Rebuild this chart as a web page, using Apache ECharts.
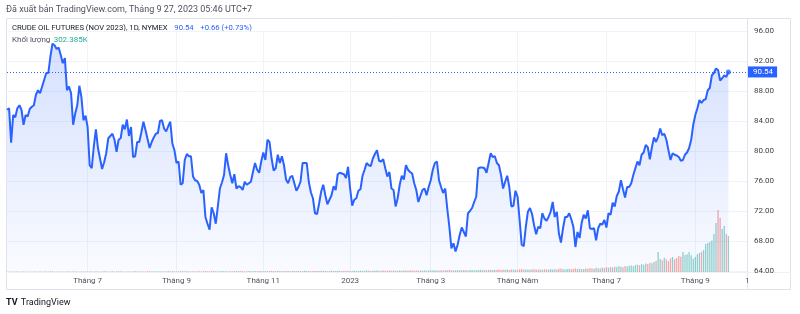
<!DOCTYPE html>
<html><head><meta charset="utf-8">
<script src="https://cdn.jsdelivr.net/npm/echarts@6/dist/echarts.min.js"></script>
<style>html,body{margin:0;padding:0;background:#fff}#c{width:800px;height:314px}</style>
</head><body><div id="c"></div>
<script>
// ---------- DATA ----------
const startDate = '2022-05-05';
const holidays = ['2022-05-30','2022-06-20','2022-07-04','2022-09-05','2022-11-24','2022-12-26',
  '2023-01-02','2023-01-16','2023-02-20','2023-04-07','2023-05-29','2023-06-19','2023-07-04','2023-09-04'];
const futureBars = 9;

// daily closes, CRUDE OIL FUTURES (NOV 2023)
const closes = [
 85.5,85.7,81.1,84.8,84.5,85.7,86.1,85.5,83.5,84.8,
 84.6,85.6,85.9,86.1,87.5,88.1,87.7,88.6,89.5,90.4,
 90.4,92.6,94.3,94.1,93.6,93.8,92.8,91.7,92.4,88.1,
 88.6,87.7,83.5,85.0,86.1,88.7,87.2,84.1,84.7,83.2,
 78.1,77.7,80.6,82.9,80.4,79.0,77.6,78.5,79.7,81.7,
 82.0,82.3,81.5,79.9,81.5,81.7,83.5,82.9,84.2,82.0,
 83.2,79.2,79.3,81.2,81.2,82.5,83.9,82.8,81.6,80.4,
 81.2,81.8,82.3,82.4,84.0,84.1,83.0,82.6,83.3,83.9,
 81.0,80.1,78.4,78.6,75.5,75.7,78.8,79.6,79.3,79.3,
 76.6,76.1,76.0,75.5,74.4,74.8,71.2,70.3,69.5,72.5,
 71.7,70.3,72.6,75.0,75.8,76.8,79.7,78.1,76.8,75.7,
 76.9,75.0,75.3,75.2,74.8,75.9,75.5,75.7,75.9,77.2,
 78.4,77.5,77.1,78.6,79.8,78.8,81.5,81.2,79.0,77.4,
 77.7,79.5,78.4,79.3,78.1,76.2,75.7,76.5,76.7,75.7,
 74.7,75.2,75.9,78.4,78.4,78.4,75.9,74.5,73.7,71.7,
 71.6,73.0,74.6,75.5,74.1,72.9,73.5,74.1,75.3,74.8,
 76.9,77.1,77.0,76.9,76.4,77.9,75.0,72.7,73.5,73.7,
 74.7,74.9,76.7,77.5,78.4,78.1,78.0,79.0,79.6,80.1,
 78.7,78.6,78.9,77.7,76.6,77.2,75.0,74.8,72.6,73.7,
 75.5,76.7,76.2,78.1,77.5,77.2,77.0,75.7,74.8,73.2,
 74.0,74.8,75.0,74.1,75.2,76.1,77.5,78.4,78.6,76.1,
 75.2,74.4,75.0,72.3,69.9,67.0,67.7,66.6,67.5,68.8,
 69.8,69.2,68.6,71.7,72.0,72.4,73.2,73.9,77.7,77.8,
 77.8,77.7,77.1,78.4,79.7,79.2,79.3,78.4,78.1,76.8,
 75.0,75.9,76.7,75.2,72.6,72.7,74.7,73.9,70.8,67.5,
 67.3,69.9,71.9,72.4,71.6,70.1,68.9,69.9,69.7,71.7,
 71.0,70.7,71.2,71.9,73.2,71.2,71.9,69.0,67.8,69.7,
 71.2,71.2,71.7,70.9,69.9,67.2,69.2,68.4,70.4,71.5,
 71.0,72.1,69.7,69.6,69.7,68.1,69.7,70.3,70.2,70.8,
 69.8,71.7,71.5,73.1,72.6,74.0,74.6,76.1,74.9,73.8,
 75.2,75.2,75.7,76.8,77.7,78.6,78.1,79.5,79.8,80.8,
 80.5,78.9,80.5,81.8,81.2,81.9,83.0,82.1,82.3,81.5,
 80.1,78.8,79.7,79.5,79.4,79.2,78.7,78.8,79.5,79.8,
 80.4,81.5,83.5,84.8,85.7,86.8,86.4,86.8,86.9,88.1,
 88.4,90.1,90.4,91.0,90.8,89.4,89.7,90.1,89.88,90.54
];

// daily volume, thousands of contracts
const volumesK = [
 3,2,4,2,3,5,2,3,4,2,
 3,2,3,4,2,3,5,3,2,4,
 3,5,4,3,2,4,3,5,3,4,
 4,3,5,4,3,2,4,3,5,4,
 5,4,3,4,5,3,4,6,4,3,
 4,5,3,4,6,4,5,3,4,5,
 5,4,6,5,4,5,3,4,6,5,
 4,6,5,4,5,6,4,5,7,5,
 6,5,4,6,5,7,5,6,4,5,
 6,5,7,6,5,6,8,6,5,7,
 6,7,5,6,8,7,6,5,7,6,
 7,6,8,7,6,5,7,8,6,7,
 8,7,6,9,7,8,6,7,9,8,
 7,8,9,7,6,8,9,7,8,9,
 8,9,7,8,10,8,9,7,8,9,
 9,8,10,9,8,7,9,10,8,9,
 10,9,8,10,9,11,9,8,10,9,
 10,11,9,10,12,10,9,11,10,12,
 11,10,12,11,10,13,11,12,10,11,
 12,11,13,12,10,14,12,11,13,12,
 13,12,14,11,13,15,12,14,13,12,
 14,13,15,14,16,15,13,14,16,15,
 14,16,15,13,17,16,15,14,17,18,
 16,17,15,18,17,16,19,18,20,17,
 19,18,21,17,22,20,19,18,23,25,
 22,20,21,19,23,24,20,22,21,19,
 23,22,20,25,21,24,22,27,29,24,
 22,25,27,23,26,31,25,28,24,26,
 29,27,33,30,28,35,31,29,38,34,
 40,36,42,38,45,41,48,44,39,50,
 46,52,55,48,58,62,57,66,60,72,
 68,78,74,85,95,168,110,98,120,105,
 92,115,126,108,118,135,128,168,142,150,
 168,140,112,126,150,160,170,185,235,244,
 252,265,319,412,521,454,361,386,319,302.385
];

// time-axis tick labels (first trading day of these months)
const tickLabels = {
 '2022-07':'Tháng 7','2022-09':'Tháng 9','2022-11':'Tháng 11','2023-01':'2023',
 '2023-03':'Tháng 3','2023-05':'Tháng Năm','2023-07':'Tháng 7','2023-09':'Tháng 9'
};
const priceMin = 64, priceMax = 96, priceStep = 4;

// ---------- BUILD ----------
function tradingDays(start, count){
  const out=[]; const d=new Date(start+'T00:00:00Z');
  while(out.length<count){
    const wd=d.getUTCDay(); const s=d.toISOString().slice(0,10);
    if(wd!==0 && wd!==6 && !holidays.includes(s)) out.push(s);
    d.setUTCDate(d.getUTCDate()+1);
  }
  return out;
}
const dates = tradingDays(startDate, closes.length + futureBars);
const labelIdx = new Set();
dates.forEach((d,i)=>{ if(i>0 && d.slice(0,7)!==dates[i-1].slice(0,7) && tickLabels[d.slice(0,7)]) labelIdx.add(i); });
const showTick = (i)=>labelIdx.has(i);

const n = closes.length;
const last = closes[n-1], prev = closes[n-2];
const chg = last - prev, pct = chg/prev*100;
const sgn = v => (v>=0?'+':'') + v.toFixed(2);
const lastVol = volumesK[volumesK.length-1];

const FONT = 'Roboto, "DejaVu Sans", sans-serif';
const BLUE = '#2962FF', UP='rgba(38,166,154,0.5)', DOWN='rgba(239,83,80,0.5)';
const GRIDC = '#f0f3fa', BORDER = '#e0e3eb', TXT = '#50535e';

const chart = echarts.init(document.getElementById('c'), null, {renderer:'canvas'});
chart.setOption({
  animation:false,
  backgroundColor:'#ffffff',
  textStyle:{fontFamily:FONT},
  grid:[
    {left:7, right:53, top:31, bottom:43},
    {left:7, right:53, top:192, bottom:42}
  ],
  xAxis:[
    {type:'category', gridIndex:0, data:dates, boundaryGap:false,
     axisLine:{show:false}, axisTick:{show:false, interval:showTick},
     splitLine:{show:true, interval:showTick, lineStyle:{color:GRIDC, width:1}},
     axisLabel:{show:true, interval:showTick, margin:6, fontSize:8, color:TXT, fontFamily:FONT,
       formatter:(v)=>tickLabels[v.slice(0,7)] || ''}},
    {type:'category', gridIndex:1, data:dates, boundaryGap:false, show:false}
  ],
  yAxis:[
    {type:'value', gridIndex:0, position:'right', min:priceMin, max:priceMax, interval:priceStep,
     axisLine:{show:false}, axisTick:{show:false},
     splitLine:{show:true, lineStyle:{color:GRIDC, width:1}},
     axisLabel:{margin:7, fontSize:8, color:'#3b3e48', fontFamily:FONT, formatter:v=>v.toFixed(2)}},
    {type:'value', gridIndex:1, min:0, max:672, show:false, splitLine:{show:false}}
  ],
  series:[
    {type:'bar', xAxisIndex:1, yAxisIndex:1, data:volumesK, barWidth:'62%', z:1,
     itemStyle:{color:(p)=>{const i=p.dataIndex; return (i===0||closes[i]>=closes[i-1])?UP:DOWN;}},
     markLine:{silent:true, symbol:'none', animation:false,
       lineStyle:{opacity:0},
       label:{show:true, position:'end', distance:1, formatter:(p)=>p.value.toFixed(3)+'K',
         color:'#fff', backgroundColor:'#22ab94', padding:[2,3,1,4], fontSize:8, fontFamily:FONT},
       data:[{yAxis:lastVol}]}},
    {type:'line', xAxisIndex:0, yAxisIndex:0, data:closes, symbol:'none', z:3,
     lineStyle:{color:BLUE, width:2},
     areaStyle:{color:new echarts.graphic.LinearGradient(0,0,0,1,[
        {offset:0,color:'rgba(41,98,255,0.28)'},{offset:1,color:'rgba(41,98,255,0.04)'}])},
     markLine:{silent:true, symbol:'none', animation:false,
       lineStyle:{color:BLUE, type:[1,2], width:1},
       label:{show:true, position:'end', distance:1, formatter:(p)=>p.value.toFixed(2),
         color:'#fff', backgroundColor:BLUE, padding:[2,4,1,5], fontSize:8, fontFamily:FONT},
       data:[{yAxis:last}]}},
    {type:'scatter', xAxisIndex:0, yAxisIndex:0, data:[[n-1,last]], symbolSize:5, z:4,
     itemStyle:{color:BLUE}, silent:true}
  ],
  graphic:[
    {type:'rect', silent:true, z:-10, shape:{x:6.5,y:18.5,width:784,height:271}, style:{fill:null, stroke:BORDER, lineWidth:1}},
    {type:'line', silent:true, z:-10, shape:{x1:747.5,y1:18.5,x2:747.5,y2:289.5}, style:{stroke:BORDER, lineWidth:1}},
    {type:'line', silent:true, z:-10, shape:{x1:6.5,y1:272.5,x2:790.5,y2:272.5}, style:{stroke:'#eef0f5', lineWidth:1}},
    {type:'text', left:745, top:277, z:10, silent:true, style:{text:'10', fill:TXT, fontSize:8, fontFamily:FONT}},
    {type:'rect', silent:true, z:11, shape:{x:748,y:275,width:42,height:14}, style:{fill:'#fff'}},
    {type:'text', left:6, top:5, silent:true, style:{text:'Đã xuất bản TradingView.com, Tháng 9 27, 2023 05:46 UTC+7', fill:'#50535e', fontSize:9, fontFamily:FONT}},
    {type:'text', left:12, top:22, silent:true, style:{
       text:'{t|CRUDE OIL FUTURES (NOV 2023), 1D, NYMEX}  {v|'+last.toFixed(2)+'}  {v|'+sgn(chg)+' ('+sgn(pct)+'%)}',
       rich:{t:{fill:'#131722', fontSize:7.7, fontFamily:FONT}, v:{fill:BLUE, fontSize:7.7, fontFamily:FONT}}}},
    {type:'text', left:12, top:34, silent:true, style:{
       text:'{t|Khối lượng} {v|'+lastVol.toFixed(3)+'K}',
       rich:{t:{fill:'#50535e', fontSize:8, fontFamily:FONT}, v:{fill:'#22ab94', fontSize:8, fontFamily:FONT}}}},
    {type:'text', left:6, top:297, silent:true, style:{
       text:'{l|TV} {t|TradingView}',
       rich:{l:{fill:'#131722', fontSize:9, fontWeight:'bold', fontFamily:FONT}, t:{fill:'#131722', fontSize:9, fontFamily:FONT}}}}
  ]
});
</script></body></html>
